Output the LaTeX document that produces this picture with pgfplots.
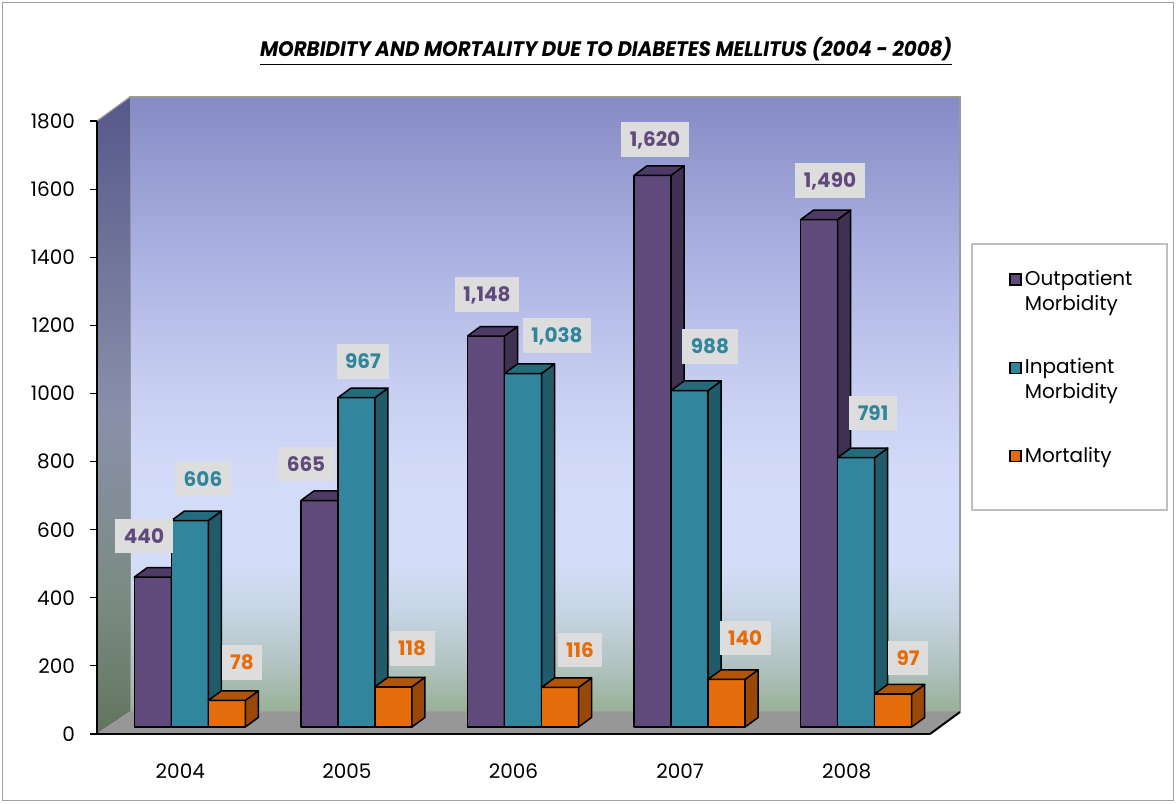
\documentclass[border=0pt]{standalone}
\usepackage{fontspec}
\setmainfont{Poppins}
\usepackage{graphicx}
\usepackage{pgfplots}
\usepackage{pgfplotstable}
\pgfplotsset{compat=1.18}

\definecolor{pF}{HTML}{604A7B}
\definecolor{pS}{HTML}{3F3151}
\definecolor{pT}{HTML}{4D3B65}
\definecolor{tF}{HTML}{31859C}
\definecolor{tS}{HTML}{215A68}
\definecolor{tT}{HTML}{256B7E}
\definecolor{oF}{HTML}{E46C0A}
\definecolor{oS}{HTML}{984807}
\definecolor{oT}{HTML}{B05407}
\definecolor{lbl}{HTML}{DDDDDD}
\definecolor{floorc}{HTML}{979797}
\definecolor{edgec}{HTML}{9A9A9A}

\definecolor{w0}{HTML}{98B096}
\definecolor{w1}{HTML}{B2C4C2}
\definecolor{w2}{HTML}{C6D4E2}
\definecolor{w3}{HTML}{D3DDF8}
\definecolor{w4}{HTML}{D2DAF8}
\definecolor{w5}{HTML}{C6CDF1}
\definecolor{w6}{HTML}{A9AFE0}
\definecolor{w7}{HTML}{868AC5}
\pgfdeclareverticalshading{backwall}{100bp}{color(0bp)=(w0); color(25bp)=(w0); color(29bp)=(w1); color(33bp)=(w2); color(37bp)=(w3); color(45bp)=(w4); color(52bp)=(w5); color(63bp)=(w6); color(75bp)=(w7); color(100bp)=(w7)}

\definecolor{l0}{HTML}{62745F}
\definecolor{l1}{HTML}{7A8A80}
\definecolor{l2}{HTML}{8A90AA}
\definecolor{l3}{HTML}{56588A}
\pgfdeclareverticalshading{leftwall}{100bp}{color(0bp)=(l0); color(25bp)=(l0); color(35bp)=(l1); color(50bp)=(l2); color(75bp)=(l3); color(100bp)=(l3)}

\tikzset{
  lblstyle/.style={fill=lbl, anchor=center, inner xsep=4.25pt, inner ysep=5pt, text height=7.2pt, text depth=0pt, font=\fontsize{10}{12}\selectfont\bfseries, /pgf/number format/1000 sep={,}}
}
\pgfplotsset{
  bar3d/.style={forget plot, draw=black, line width=0.75pt, line join=round, yshift=3.5pt},
  legsq/.style={legend image code/.code={\draw[##1, draw=black, line width=0.8pt] (0pt,{-2.75pt+#1}) rectangle (5.5pt,{2.75pt+#1});}},
}

\newcommand\tdbw{0.2222}
\newcommand\tdbdx{0.0781}
\newcommand\tdbdy{28}
% #1 category, #2 series index, #3 value, #4 front, #5 side, #6 top
\newcommand\tdbar[6]{%
  \pgfmathsetmacro\tdxa{#1-0.2763+#2*\tdbw}%
  \pgfmathsetmacro\tdxb{\tdxa+\tdbw}%
  \pgfmathsetmacro\tdxc{\tdxb+\tdbdx}%
  \pgfmathsetmacro\tdxd{\tdxa+\tdbdx}%
  \pgfmathsetmacro\tdyt{#3+\tdbdy}%
  \edef\tdtmp{%
    \noexpand\addplot[bar3d, fill=#4] coordinates {(\tdxa,0) (\tdxb,0) (\tdxb,#3) (\tdxa,#3)} -- cycle;
    \noexpand\addplot[bar3d, fill=#5] coordinates {(\tdxb,0) (\tdxc,\tdbdy) (\tdxc,\tdyt) (\tdxb,#3)} -- cycle;
    \noexpand\addplot[bar3d, fill=#6] coordinates {(\tdxa,#3) (\tdxb,#3) (\tdxc,\tdyt) (\tdxd,\tdyt)} -- cycle;
  }\tdtmp}

\pgfplotstableread{
x v yo
-0.2179 440 24.1
0.7545 665 21.75
1.8409 1148 24.25
2.8493 1620 21.4
3.9 1490 23.05
}\outlbl
\pgfplotstableread{
x v yo
0.1363 606 24.3
1.0966 967 21.6
2.2611 1038 22.5
3.1795 988 25.5
4.1579 791 25.8
}\inlbl
\pgfplotstableread{
x v yo
0.3703 78 22.45
1.3908 118 22.65
2.3992 116 22.25
3.3902 140 24.15
4.368 97 21.5
}\mortlbl

\begin{document}
\begin{tikzpicture}
\useasboundingbox (0,0) rectangle (588pt,401.5pt);
\begin{scope}[yshift=401.5pt, x=0.5pt, y=-0.5pt]
  % outer border
  \draw[gray!75, line width=0.6pt] (2.5,2.5) rectangle (1173.5,800.5);
  % back wall
  \shade[shading=backwall] (130,97) rectangle (960,712);
  \draw[edgec, line width=0.6pt] (130,712) -- (130,97) -- (960,97) -- (960,712);
  % left wall
  \shade[shading=leftwall] (97,121) -- (130,97) -- (130,712) -- (97,734) -- cycle;
  \draw[edgec, line width=0.6pt] (97,121) -- (130,97);
  % floor
  \fill[floorc] (97,734) -- (930,734) -- (960,712) -- (130,712) -- cycle;
  \draw[edgec, line width=0.6pt] (97,734) -- (130,712) -- (960,712);
  \draw[black, line width=1pt] (930,734) -- (960,712);
  % legend box
  \draw[gray!50, fill=white, line width=0.6pt] (972,244) rectangle (1167,510);
\end{scope}
\node[anchor=base] at (303pt,373pt) {\resizebox{346pt}{\height}{\fontsize{10.5}{12}\selectfont\bfseries\itshape\underline{MORBIDITY AND MORTALITY DUE TO DIABETES MELLITUS (2004 - 2008)}}};
\begin{axis}[
  at={(48.5pt,34.5pt)}, anchor=south west,
  width=416.5pt, height=306.5pt, scale only axis,
  xmin=-0.5, xmax=4.5, ymin=0, ymax=1800,
  axis x line*=bottom, axis y line*=left,
  axis line style={black, line width=1pt},
  xtick={0,1,2,3,4}, xticklabels={2004,2005,2006,2007,2008},
  x tick style={draw=none},
  ytick={0,200,...,1800},
  y tick style={black, line width=0.6pt},
  tick align=outside, major tick length=3.5pt,
  ticklabel style={font=\fontsize{10}{12}\selectfont},
  yticklabel style={xshift=-4pt},
  xticklabel style={yshift=-8pt},
  /pgf/number format/assume math mode=true,
  /pgf/number format/1000 sep={},
  clip=false,
  legend style={draw=none, fill=none, at={(axis description cs:1.0948,0.757)}, anchor=north west,
    font=\fontsize{10}{12.25}\selectfont, row sep=22.75pt, column sep=1.5pt, inner sep=0pt,
    cells={anchor=west, align=left}, nodes={inner sep=0pt}},
  legend cell align=left,
]
\addlegendimage{legsq=6pt, fill=pF}
\addlegendentry{Outpatient\\Morbidity}
\addlegendimage{legsq=6pt, fill=tF}
\addlegendentry{Inpatient\\Morbidity}
\addlegendimage{legsq=0pt, fill=oF}
\addlegendentry{Mortality}

\tdbar{0}{0}{440}{pF}{pS}{pT}
\tdbar{0}{1}{606}{tF}{tS}{tT}
\tdbar{0}{2}{78}{oF}{oS}{oT}
\tdbar{1}{0}{665}{pF}{pS}{pT}
\tdbar{1}{1}{967}{tF}{tS}{tT}
\tdbar{1}{2}{118}{oF}{oS}{oT}
\tdbar{2}{0}{1148}{pF}{pS}{pT}
\tdbar{2}{1}{1038}{tF}{tS}{tT}
\tdbar{2}{2}{116}{oF}{oS}{oT}
\tdbar{3}{0}{1620}{pF}{pS}{pT}
\tdbar{3}{1}{988}{tF}{tS}{tT}
\tdbar{3}{2}{140}{oF}{oS}{oT}
\tdbar{4}{0}{1490}{pF}{pS}{pT}
\tdbar{4}{1}{791}{tF}{tS}{tT}
\tdbar{4}{2}{97}{oF}{oS}{oT}

\addplot[forget plot, draw=none, nodes near coords, point meta=explicit,
  visualization depends on={\thisrow{yo} \as \yo},
  every node near coord/.append style={lblstyle, text=pF, yshift=\yo}]
  table[x=x, y=v, meta=v] {\outlbl};
\addplot[forget plot, draw=none, nodes near coords, point meta=explicit,
  visualization depends on={\thisrow{yo} \as \yo},
  every node near coord/.append style={lblstyle, text=tF, yshift=\yo}]
  table[x=x, y=v, meta=v] {\inlbl};
\addplot[forget plot, draw=none, nodes near coords, point meta=explicit,
  visualization depends on={\thisrow{yo} \as \yo},
  every node near coord/.append style={lblstyle, text=oF, yshift=\yo}]
  table[x=x, y=v, meta=v] {\mortlbl};
\end{axis}
\end{tikzpicture}
\end{document}
